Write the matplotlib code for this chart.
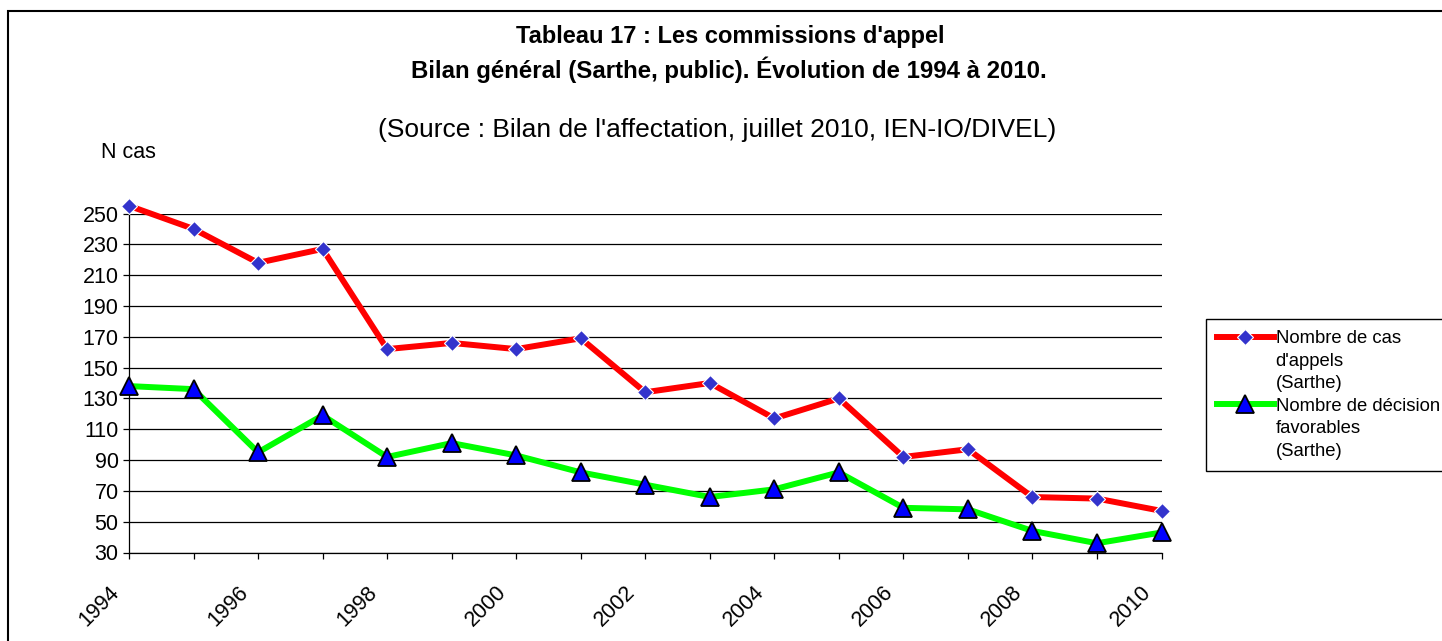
import matplotlib
matplotlib.use("Agg")
import matplotlib.pyplot as plt
import matplotlib.transforms as mtransforms
from matplotlib.lines import Line2D
from matplotlib.patches import Rectangle

plt.rcParams['font.family'] = ['Liberation Sans', 'DejaVu Sans']

# données
annees = [1994, 1995, 1996, 1997, 1998, 1999, 2000, 2001, 2002,
          2003, 2004, 2005, 2006, 2007, 2008, 2009, 2010]
appels = [255, 240, 218, 227, 162, 166, 162, 169, 134,
          140, 117, 130, 92, 97, 66, 65, 57]
favorables = [138, 136, 95, 119, 92, 101, 93, 82, 74,
              66, 71, 82, 59, 58, 44, 36, 43]
yticks = [30, 50, 70, 90, 110, 130, 150, 170, 190, 210, 230, 250]
legende = ["Nombre de cas", "d'appels", "(Sarthe)",
           "Nombre de décision", "favorables", "(Sarthe)"]

W, H = 1442, 641
fig = plt.figure(figsize=(W / 100, H / 100), dpi=100)
ax = fig.add_axes([129 / W, 1 - 552.5 / H, 1032.5 / W, 339 / H])

l1, = ax.plot(annees, appels, color='#ff0000', lw=4.3, marker='D', ms=8.5,
              mfc='#3333cc', mec='white', mew=0.8, clip_on=False, zorder=3)
l2, = ax.plot(annees, favorables, color='#00ff00', lw=4.3, marker='^', ms=12.5,
              mfc='#0000ff', mec='black', mew=1.3, clip_on=False, zorder=4)

ax.set_xlim(1994, 2010)
ax.set_ylim(30, 250)
ax.set_yticks(yticks)
ax.yaxis.grid(True, color='black', lw=0.9)
ax.set_axisbelow(True)
ax.set_xticks(annees)
ax.set_xticklabels([str(a) if a % 2 == 0 else '' for a in annees],
                   rotation=45, ha='right', va='center', rotation_mode='anchor')
for s in ['top', 'right']:
    ax.spines[s].set_visible(False)
for s in ['left', 'bottom']:
    ax.spines[s].set_linewidth(0.9)
ax.tick_params(axis='both', direction='out', length=4.5, width=0.9,
               labelsize=15.5)
ax.tick_params(axis='x', pad=22)
ax.tick_params(axis='y', pad=3)
decal = mtransforms.ScaledTranslation(-13 / 100, 0, fig.dpi_scale_trans)
for lab in ax.get_xticklabels():
    lab.set_transform(lab.get_transform() + decal)

fig.text(730 / W, 1 - 37 / H, "Tableau 17 : Les commissions d'appel",
         ha='center', va='center', fontsize=17, fontweight='bold')
fig.text(729 / W, 1 - 70 / H,
         "Bilan général (Sarthe, public). Évolution de 1994 à 2010.",
         ha='center', va='center', fontsize=17.3, fontweight='bold')
fig.text(717 / W, 1 - 130 / H,
         "(Source : Bilan de l'affectation, juillet 2010, IEN-IO/DIVEL)",
         ha='center', va='center', fontsize=19)
fig.text(128 / W, 1 - 153 / H, "N cas", ha='center', va='center', fontsize=15.5)

vide = Line2D([], [], ls='none')
leg = fig.legend([l1, vide, vide, l2, vide, vide], legende,
                 loc='upper left', bbox_to_anchor=(1205.5 / W, 1 - 319 / H),
                 bbox_transform=fig.transFigure, fontsize=13.3,
                 handlelength=3.1, handletextpad=0.1, borderpad=0.6,
                 labelspacing=0.3, borderaxespad=0, fancybox=False,
                 framealpha=1, edgecolor='black', numpoints=1)
leg.get_frame().set_linewidth(1.0)

fig.add_artist(Rectangle((7.5 / W, -0.5), 2, 0.5 + 1 - 10.7 / H,
                         transform=fig.transFigure, fill=False,
                         ec='black', lw=1.5))

fig.savefig('out.png', dpi=100)
